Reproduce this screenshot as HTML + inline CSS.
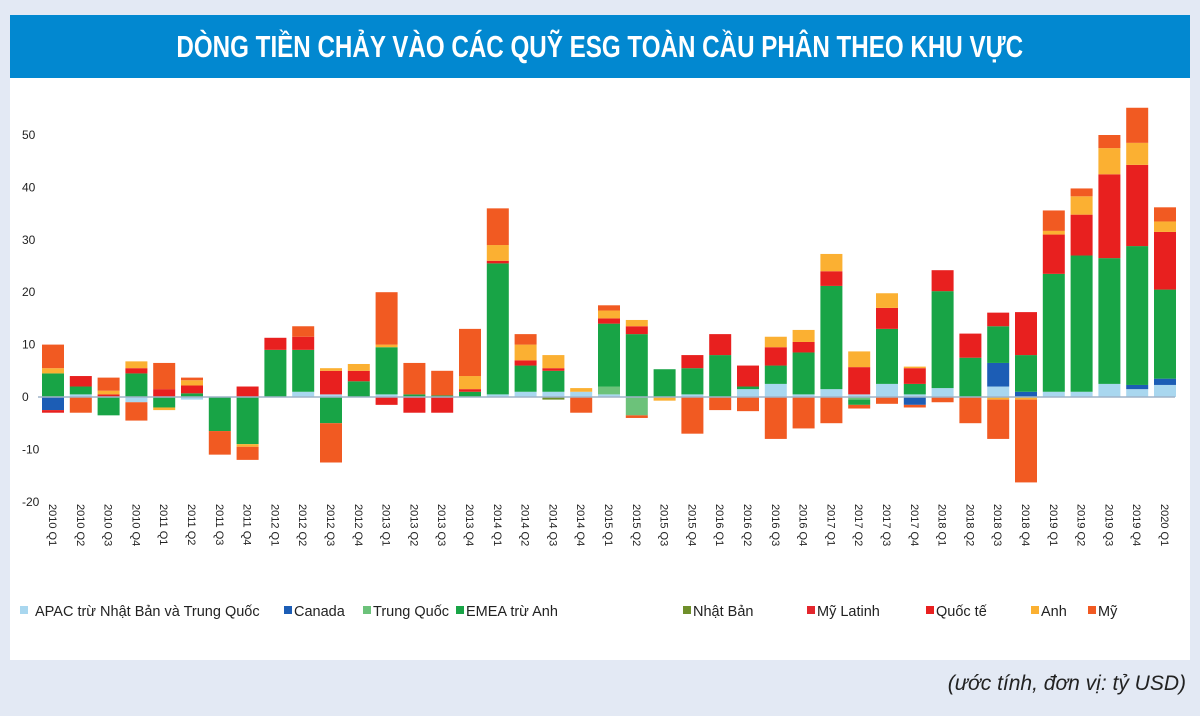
<!DOCTYPE html>
<html><head><meta charset="utf-8"><style>
body{margin:0;width:1200px;height:716px;background:#e3e9f4;font-family:"Liberation Sans",sans-serif;overflow:hidden;position:relative}
#title{position:absolute;left:10px;top:15px;width:1180px;height:63px;background:#0288d0;color:#fff;font-weight:bold;font-size:31px;line-height:63px;text-align:center}
#title span{display:inline-block;transform:scaleX(0.78);white-space:nowrap}
#panel{position:absolute;left:10px;top:78px;width:1180px;height:582px;background:#fff}
#cap{position:absolute;right:14px;top:672px;font-style:italic;font-size:21px;color:#222}
svg{position:absolute;left:0;top:0}
</style></head><body>
<div id="title"><span>DÒNG TIỀN CHẢY VÀO CÁC QUỸ ESG TOÀN CẦU PHÂN THEO KHU VỰC</span></div>
<div id="panel"></div>
<div id="cap">(ước tính, đơn vị: tỷ USD)</div>
<svg id="chart" width="1200" height="716"></svg>
<script>
const categories=["2010 Q1","2010 Q2","2010 Q3","2010 Q4","2011 Q1","2011 Q2","2011 Q3","2011 Q4","2012 Q1","2012 Q2","2012 Q3","2012 Q4","2013 Q1","2013 Q2","2013 Q3","2013 Q4","2014 Q1","2014 Q2","2014 Q3","2014 Q4","2015 Q1","2015 Q2","2015 Q3","2015 Q4","2016 Q1","2016 Q2","2016 Q3","2016 Q4","2017 Q1","2017 Q2","2017 Q3","2017 Q4","2018 Q1","2018 Q2","2018 Q3","2018 Q4","2019 Q1","2019 Q2","2019 Q3","2019 Q4","2020 Q1"];
const apac=[0,0.5,0,-1,0,-0.5,0,0,0,1,0.5,0,0.5,0,0,0,0.5,1,1,1,0.5,0,0,0.5,0,1.5,2.5,0.5,1.5,0.5,2.5,0.5,1.7,0,2,0,1,1,2.5,1.5,2.3];
const canada=[-2.5,0,0,0,0,0,0,0,0,0,0,0,0,0,0,0,0,0,0,0,0,0,0,0,0,0,0,0,0,0,0,-1.5,0,0,4.5,1,0,0,0,0.8,1.2];
const china=[0,0,0,0,0,0,0,0,0,0,0,0,0,0,0,0,0,0,0,0,1.5,-3.5,0,0,0,0,0,0,0,-0.5,0,0,0,0,0,0,0,0,0,0,0];
const emea=[4.5,1.5,-3.5,4.5,-2,0.7,-6.5,-9,9,8,-5,3,9,0.5,0.3,1,25,5,4,0,12,12,5.3,5,8,0.5,3.5,8,19.7,-1,10.5,2,18.5,7.5,7,7,22.5,26,24,26.5,17];
const japan=[0,0,0,0,0,0,0,0,0,0,0,0,0,0,0,0,0,0,-0.5,0,0,0,0,0,0,0,0,0,0,0,0,0,0,0,0,0,0,0,0,0,0];
const latam=[0,0,0,0,0,0,0,0,0,0,0,0,0,0,0,0,0,0,0,0,0,0,0,0,0,0,0,0,0,0,0,0,0,0,0,0,0,0,0,0,0];
const intl=[-0.5,2,0.5,1,1.5,1.5,0,2,2.3,2.5,4.5,2,-1.5,-3,-3,0.5,0.5,1,0.5,0,1,1.5,0,2.5,4,4,3.5,2,2.8,5.2,4,3,4,4.6,2.6,8.2,7.5,7.8,16,15.5,11];
const uk=[1,0,0.7,1.3,-0.5,1,0,-0.5,0,0,0.5,1.3,0.5,0,0,2.5,3,3,2.5,0.7,1.5,1.2,-0.7,0,0,0,2,2.3,3.3,3,2.8,0.3,0,0,-0.5,-0.5,0.7,3.5,5,4.2,2];
const us=[4.5,-3,2.5,-3.5,5,0.5,-4.5,-2.5,0,2,-7.5,0,10,6,4.7,9,7,2,0,-3,1,-0.5,0,-7,-2.5,-2.7,-8,-6,-5,-0.7,-1.3,-0.5,-1,-5,-7.5,-15.8,3.9,1.5,2.5,6.7,2.7];
const yTicks=[50,40,30,20,10,0,-10,-20];
const series=[
 {name:"APAC trừ Nhật Bản và Trung Quốc",data:apac,color:"#a9d7ef",lx:20,key:"apac"},
 {name:"Canada",data:canada,color:"#1c5db5",lx:284,key:"canada"},
 {name:"Trung Quốc",data:china,color:"#6cc27a",lx:363,key:"china"},
 {name:"EMEA trừ Anh",data:emea,color:"#18a446",lx:456,key:"emea"},
 {name:"Nhật Bản",data:japan,color:"#6f8f2a",lx:683,key:"japan"},
 {name:"Mỹ Latinh",data:latam,color:"#e3262d",lx:807,key:"latam"},
 {name:"Quốc tế",data:intl,color:"#e8201f",lx:926,key:"intl"},
 {name:"Anh",data:uk,color:"#fbb032",lx:1031,key:"uk"},
 {name:"Mỹ",data:us,color:"#f15a22",lx:1088,key:"us"}];
const NS="http://www.w3.org/2000/svg";
const svg=document.getElementById('chart');
const y=v=>397-v*5.24;
const x=i=>53+i*27.8;
function mk(t,a){const e=document.createElementNS(NS,t);for(const k in a)e.setAttribute(k,a[k]);svg.appendChild(e);return e;}
yTicks.forEach(v=>{const t=mk('text',{x:22,y:y(v)+4,'font-size':12,fill:'#222'});t.textContent=v;

});
categories.forEach((c,i)=>{
 let pos=0,neg=0;
 series.forEach(s=>{const v=s.data[i];if(!v)return;let y0,y1;
  if(v>0){y0=pos;y1=pos+v;pos=y1;}else{y0=neg;y1=neg+v;neg=y1;}
  const r=mk('rect',{x:x(i)-11,y:Math.min(y(y0),y(y1)),width:22,height:Math.abs(y(y1)-y(y0)),fill:s.color});
  
  });
 const t=mk('text',{x:0,y:0,'font-size':11,fill:'#222',transform:`translate(${x(i)-4},504) rotate(90)`});
 t.textContent=c;
 
 
});
const zl=mk('line',{x1:38,x2:1175,y1:y(0),y2:y(0),stroke:'#9fb3c8','stroke-width':1.5});


series.forEach(s=>{
 const r=mk('rect',{x:s.lx,y:606,width:8,height:8,fill:s.color});
 
 
 const t=mk('text',{x:s.lx+(s.key==='apac'?15:10),y:616,'font-size':14.5,fill:'#222'});
 t.textContent=s.name;
 
 
});
</script>
</body></html>
